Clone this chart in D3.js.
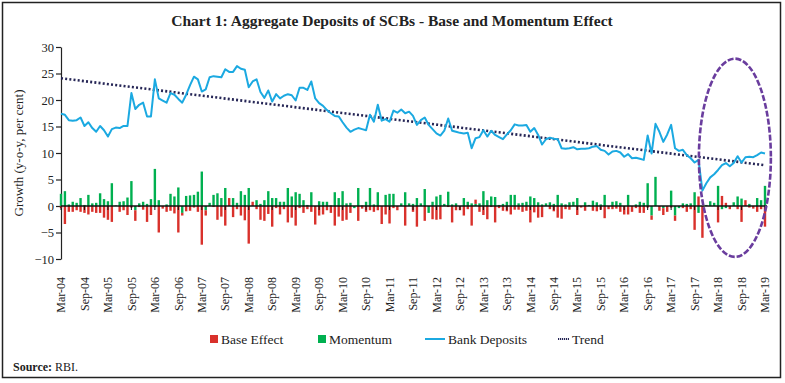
<!DOCTYPE html>
<html>
<head>
<meta charset="utf-8">
<script src="https://cdn.jsdelivr.net/npm/d3@7"></script>
<style>
body { margin: 0; background: #fff; }
text { font-family: "Liberation Serif", "Times New Roman", serif; fill: #222; }
</style>
</head>
<body>
<script>
// monthly data, Mar-04 .. Mar-19 (181 months)
const bankDeposits = [
  17.4, 17.2, 16.2, 16.1, 16.2, 16.7, 15.1, 15.8, 14.7, 14.0, 15.1, 14.3,
  13.1, 14.5, 14.8, 14.7, 15.1, 15.1, 21.3, 18.3, 19.1, 19.5, 16.9, 16.9,
  23.9, 20.3, 19.9, 19.5, 21.3, 21.0, 20.2, 19.5, 21.0, 22.8, 24.4, 23.9,
  21.6, 22.0, 24.3, 24.5, 24.4, 24.3, 25.8, 25.3, 25.3, 26.4, 25.9, 25.7,
  22.4, 23.5, 23.9, 21.5, 20.4, 21.8, 19.7, 21.1, 20.3, 20.8, 21.1, 20.9,
  19.9, 22.3, 22.3, 21.9, 23.5, 20.3, 19.4, 18.9, 18.1, 17.5, 17.0, 16.9,
  15.8, 14.8, 14.0, 14.4, 14.7, 14.5, 14.3, 17.2, 15.9, 19.1, 16.1, 16.4,
  15.9, 18.0, 17.6, 18.2, 17.5, 17.8, 17.0, 15.3, 16.2, 16.7, 15.3, 14.5,
  13.7, 13.3, 14.2, 16.5, 14.2, 14.0, 13.8, 13.7, 13.8, 10.9, 12.8, 13.0,
  14.3, 13.1, 14.2, 13.4, 13.0, 12.6, 13.5, 14.3, 15.4, 15.2, 15.2, 15.3,
  14.0, 14.7, 13.4, 11.6, 12.6, 12.9, 12.7, 12.6, 10.9, 10.8, 10.9, 11.1,
  10.7, 10.8, 10.8, 10.9, 11.2, 11.3, 10.6, 10.4, 9.7, 10.3, 10.4, 10.1,
  9.3, 9.8, 9.0, 9.1, 8.9, 8.7, 13.3, 9.9, 15.5, 14.0, 12.1, 13.5,
  15.3, 10.9, 10.4, 10.6, 9.6, 9.0, 8.2, 8.7, 2.9, 4.3, 5.4, 6.0,
  6.8, 7.7, 8.1, 7.5, 8.1, 9.4, 8.2, 9.2, 9.3, 9.2, 9.6, 10.1,
  9.9
]

const baseEffect = [
  -0.4, -3.4, -1.1, -1.1, -0.8, -1.1, -1.3, -1.6, -1.1, -1.3, -1.3, -2.2,
  -2.6, -3.0, 0.0, -1.1, -0.8, -1.7, -0.3, -2.0, -0.2, -0.7, -3.0, -1.7,
  -0.2, -5.0, -0.5, -1.1, -0.9, -1.4, -5.0, -0.5, -1.0, -0.9, -0.3, -1.1,
  -7.3, -1.0, 0.0, -0.2, -2.6, -2.0, -3.7, 1.5, -2.1, -0.6, -1.8, -2.7,
  -7.1, 0.8, -0.6, -2.6, -2.8, -1.5, -3.9, -0.4, -1.6, -0.6, -3.1, -2.2,
  -3.7, -0.4, -1.3, -0.6, -1.1, -3.5, -1.8, -1.6, -0.8, -1.3, -3.7, -2.0,
  -2.8, -2.6, -1.3, 0.0, -2.8, -0.5, -1.1, -0.8, -1.1, -0.8, -3.4, -1.6,
  -3.3, -0.4, -0.8, 0.0, -3.7, 0.0, -1.1, -3.9, 0.0, -2.8, 0.0, -2.5,
  -2.6, -2.5, 0.0, -0.2, -3.1, -0.8, -0.8, -1.8, -0.6, -3.7, 0.8, -1.1,
  -1.7, -2.5, -0.2, -3.1, -0.4, -0.9, -1.0, -1.6, -0.7, -0.7, -1.1, -0.9,
  -3.1, -1.2, -2.2, -2.1, 0.0, -0.6, -1.0, -2.2, -2.4, -0.6, -0.7, 0.0,
  -1.7, -0.3, -0.9, 0.0, -0.9, -1.0, -0.7, -2.3, -0.6, -0.6, -0.5, -1.1,
  -1.6, -1.6, -1.1, -0.4, -1.3, -1.3, -0.3, -0.8, 0.0, -0.9, -1.3, -1.1,
  -0.3, -1.0, 0.0, -0.4, -1.1, -0.6, -4.5, 1.8, -6.0, 0.0, 0.0, 0.0,
  -3.1, 1.9, 0.6, -0.6, 0.0, -0.6, -3.0, 1.1, -0.3, -0.5, -1.1, -0.6,
  -3.9
]

const momentum = [
  2.3, 2.8, 0.3, 0.8, 0.6, 1.5, 0.2, 2.1, 0.5, 0.6, 2.4, 1.3,
  0.9, 4.3, 0.1, 0.8, 0.9, 1.6, 4.7, -0.8, 0.5, 0.8, 0.4, 1.3,
  7.0, 1.1, 0.0, 0.3, 2.3, 1.8, 3.5, -1.3, 1.9, 2.0, 2.1, 2.7,
  6.5, -0.8, 0.6, 2.1, 2.4, 1.5, 3.4, 0.0, 1.5, 0.6, 2.8, 2.1,
  3.4, 0.0, 1.1, 0.4, 1.1, 2.8, 1.5, 1.5, 0.8, 0.8, 3.4, 1.8,
  2.6, 2.3, 1.1, 0.2, 2.6, 0.0, 0.9, 0.8, 0.8, 0.1, 2.6, 1.5,
  2.8, 0.5, 0.6, -0.4, 3.4, 0.1, 0.8, 3.4, 0.3, 2.6, 0.0, 2.1,
  2.3, 2.3, 0.0, 0.5, 2.6, 0.5, 0.4, 1.5, 0.5, 3.2, -1.3, 0.8,
  1.8, 2.1, 0.4, 2.7, 0.3, 0.5, 0.0, 1.5, 0.8, 0.5, 0.4, 0.5,
  2.8, 1.1, 1.8, 1.7, 0.2, 0.4, 0.8, 2.1, 2.1, 0.5, 0.6, 0.8,
  1.8, 1.5, 0.7, 0.3, 0.5, 0.7, 0.4, 2.1, 0.5, 0.3, 0.7, 0.8,
  1.5, 0.0, 0.7, 0.2, 1.0, 0.7, 0.3, 2.1, 0.0, 0.8, 0.9, 0.6,
  0.0, 2.1, 0.0, 0.3, 0.8, 0.6, 4.3, -1.8, 5.5, 0.0, -0.4, 0.0,
  2.9, -1.8, -0.4, 0.5, 0.4, 0.5, 2.6, -1.3, 0.0, 0.2, 0.9, 0.6,
  3.8, -0.6, -0.4, 0.0, 0.7, 1.8, 1.4, 0.0, 0.4, 0.0, 1.5, 1.1,
  3.8
]

// linear trend, value at first and last month
const trendEnds = [24.1, 7.7]

const tickLabels = [
  'Mar-04', 'Sep-04', 'Mar-05', 'Sep-05', 'Mar-06', 'Sep-06', 'Mar-07', 'Sep-07',
  'Mar-08', 'Sep-08', 'Mar-09', 'Sep-09', 'Mar-10', 'Sep-10', 'Mar-11', 'Sep-11',
  'Mar-12', 'Sep-12', 'Mar-13', 'Sep-13', 'Mar-14', 'Sep-14', 'Mar-15', 'Sep-15',
  'Mar-16', 'Sep-16', 'Mar-17', 'Sep-17', 'Mar-18', 'Sep-18', 'Mar-19'
]
const yTicks = [-10, -5, 0, 5, 10, 15, 20, 25, 30]

// highlighted period: centre month index / value, half-width in months / value units
const highlight = {cx: 172.3, cy: 9.1, rx: 9.2, ry: 18.7}

const colors = {base: '#d9312b', momentum: '#00b050', deposits: '#1ba9e1', trend: '#262656', ring: '#6a3d9e'}

const width = 785
const height = 383

const svg = d3.select('body').append('svg')
  .attr('width', width)
  .attr('height', height)

svg.append('rect')
  .attr('x', 2.5).attr('y', 2.5)
  .attr('width', 778).attr('height', 375)
  .attr('fill', '#fff')
  .attr('stroke', '#222')
  .attr('stroke-width', 1.5)

svg.append('text')
  .attr('x', 392).attr('y', 26)
  .attr('text-anchor', 'middle')
  .style('font-size', '15.5px')
  .style('font-weight', 'bold')
  .text('Chart 1: Aggregate Deposits of SCBs - Base and Momentum Effect')

const x = d3.scaleLinear().domain([0, bankDeposits.length - 1]).range([61, 765])
const y = d3.scaleLinear().domain([-10, 30]).range([259, 47])

const rows = bankDeposits.map((d, i) => ({i, base: baseEffect[i], momentum: momentum[i]}))

// y axis
const yAxis = svg.append('g')
  .attr('transform', `translate(${x(0)}, 0)`)
  .call(d3.axisLeft(y).tickValues(yTicks).tickSize(5).tickSizeOuter(0))
yAxis.select('.domain').attr('stroke', '#222').attr('stroke-width', 1.2)
yAxis.selectAll('.tick line').attr('stroke', '#222').attr('stroke-width', 1.2)
yAxis.selectAll('.tick text')
  .attr('x', -7)
  .style('font-family', '"Liberation Serif", serif')
  .style('font-size', '12.5px')
  .attr('fill', '#222')

svg.append('text')
  .attr('transform', `translate(18, ${y(10)}) rotate(-90)`)
  .attr('text-anchor', 'middle')
  .attr('dy', '0.35em')
  .style('font-size', '13px')
  .text('Growth (y-o-y, per cent)')

// stacked bars, momentum nearest the axis
const stacked = d3.stack()
  .keys(['momentum', 'base'])
  .offset(d3.stackOffsetDiverging)(rows)

const barW = 2.4
svg.append('g')
  .selectAll('g')
  .data(stacked)
  .join('g')
  .attr('fill', (s) => colors[s.key])
  .selectAll('rect')
  .data((s) => s)
  .join('rect')
  .attr('x', (d) => x(d.data.i) - barW / 2)
  .attr('y', (d) => y(Math.max(d[0], d[1])))
  .attr('width', barW)
  .attr('height', (d) => Math.abs(y(d[0]) - y(d[1])))

// zero line and category ticks
svg.append('line')
  .attr('x1', x(0)).attr('x2', x(bankDeposits.length - 1) + 2)
  .attr('y1', y(0)).attr('y2', y(0))
  .attr('stroke', '#111')
  .attr('stroke-width', 1.5)

svg.append('g')
  .selectAll('line')
  .data(tickLabels)
  .join('line')
  .attr('x1', (d, k) => x(k * 6)).attr('x2', (d, k) => x(k * 6))
  .attr('y1', y(0)).attr('y2', y(0) + 4)
  .attr('stroke', '#111')
  .attr('stroke-width', 1)

svg.append('g')
  .selectAll('text')
  .data(tickLabels)
  .join('text')
  .attr('transform', (d, k) => `translate(${x(k * 6)}, 277) rotate(-90)`)
  .attr('text-anchor', 'end')
  .attr('dy', '0.35em')
  .style('font-size', '12px')
  .text((d) => d)

// trend
svg.append('line')
  .attr('x1', x(0)).attr('y1', y(trendEnds[0]))
  .attr('x2', x(bankDeposits.length - 1)).attr('y2', y(trendEnds[1]))
  .attr('stroke', colors.trend)
  .attr('stroke-width', 2.6)
  .attr('stroke-dasharray', '2,2.2')

// bank deposits
const depositLine = d3.line()
  .x((d, i) => x(i))
  .y((d) => y(d))

svg.append('path')
  .datum(bankDeposits)
  .attr('fill', 'none')
  .attr('stroke', colors.deposits)
  .attr('stroke-width', 2)
  .attr('stroke-linejoin', 'round')
  .attr('d', depositLine)

// highlight ring
svg.append('ellipse')
  .attr('cx', x(highlight.cx))
  .attr('cy', y(highlight.cy))
  .attr('rx', x(highlight.rx) - x(0))
  .attr('ry', y(0) - y(highlight.ry))
  .attr('fill', 'none')
  .attr('stroke', colors.ring)
  .attr('stroke-width', 2.6)
  .attr('stroke-dasharray', '6,2')

// legend
const legend = svg.append('g').attr('transform', 'translate(0, 339)')
const legendItems = [
  {label: 'Base Effect', key: 'base', type: 'box', x: 210},
  {label: 'Momentum', key: 'momentum', type: 'box', x: 318},
  {label: 'Bank Deposits', key: 'deposits', type: 'line', x: 425},
  {label: 'Trend', key: 'trend', type: 'dots', x: 558}
]
legendItems.forEach((item) => {
  const g = legend.append('g').attr('transform', `translate(${item.x}, 0)`)
  if (item.type === 'box') {
    g.append('rect').attr('x', 0).attr('y', -4).attr('width', 8).attr('height', 8).attr('fill', colors[item.key])
    g.append('text').attr('x', 11).attr('dy', '0.35em').style('font-size', '13.5px').text(item.label)
  } else if (item.type === 'line') {
    g.append('line').attr('x1', 0).attr('x2', 20).attr('stroke', colors.deposits).attr('stroke-width', 2)
    g.append('text').attr('x', 23).attr('dy', '0.35em').style('font-size', '13.5px').text(item.label)
  } else {
    g.append('line').attr('x1', 0).attr('x2', 11).attr('stroke', colors.trend).attr('stroke-width', 2).attr('stroke-dasharray', '1.2,0.8')
    g.append('text').attr('x', 14).attr('dy', '0.35em').style('font-size', '13.5px').text(item.label)
  }
})

// source note
const note = svg.append('text').attr('x', 13).attr('y', 371).style('font-size', '12px')
note.append('tspan').style('font-weight', 'bold').text('Source: ')
note.append('tspan').text('RBI.')
</script>
</body>
</html>
